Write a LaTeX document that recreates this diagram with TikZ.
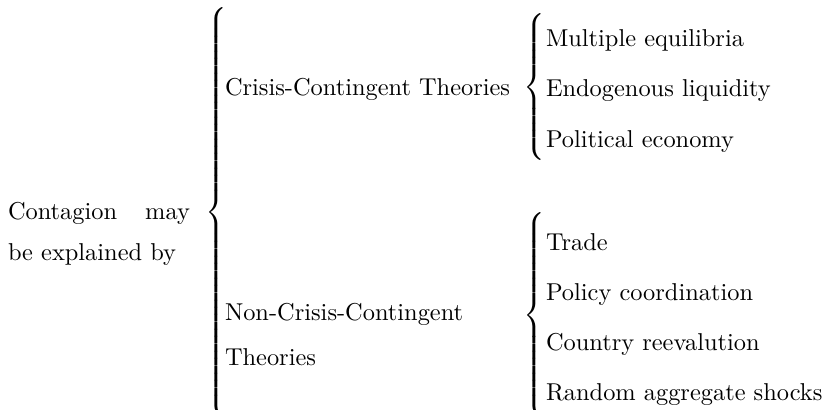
\documentclass[tikz,border=0pt]{standalone}
\begin{document}
% extensible curly brace of a given half height
\newcommand\curlybrace[1]{$\left\{\vcenter{\hrule height #1 depth #1 width 0pt}\right.$}
\begin{tikzpicture}[x=0.41pt,y=-0.41pt,
  every node/.style={inner sep=0pt, outer sep=0pt},
  brace/.style={anchor=west},
  item/.style={anchor=base west}]
\useasboundingbox (0,0) rectangle (824,409);

% root
\node[anchor=north west, text width=74.6pt, align=justify,
      execute at begin node={\baselineskip=16.8pt}] (root) at (8,202.5)
  {Contagion may\linebreak be explained by};
\node[brace] (b0) at (205,212.5) {\curlybrace{84pt}};

% first level
\node[item] (cc) at (225,95) {Crisis-Contingent Theories};
\node[anchor=north west, align=left,
      execute at begin node={\baselineskip=18.5pt}] (ncc) at (225,303.5)
  {Non-Crisis-Contingent\\Theories};

% crisis-contingent branch
\node[brace] (b1) at (523,87) {\curlybrace{31.6pt}};
\node[item] (m1) at (546,46) {Multiple equilibria};
\node[item] (m2) at (546,96) {Endogenous liquidity};
\node[item] (m3) at (546,147) {Political economy};

% non-crisis-contingent branch
\node[brace] (b2) at (523,315) {\curlybrace{42.5pt}};
\node[item] (n1) at (546,250) {Trade};
\node[item] (n2) at (546,300) {Policy coordination};
\node[item] (n3) at (546,350) {Country reevalution};
\node[item] (n4) at (546,400) {Random aggregate shocks};
\end{tikzpicture}
\end{document}
